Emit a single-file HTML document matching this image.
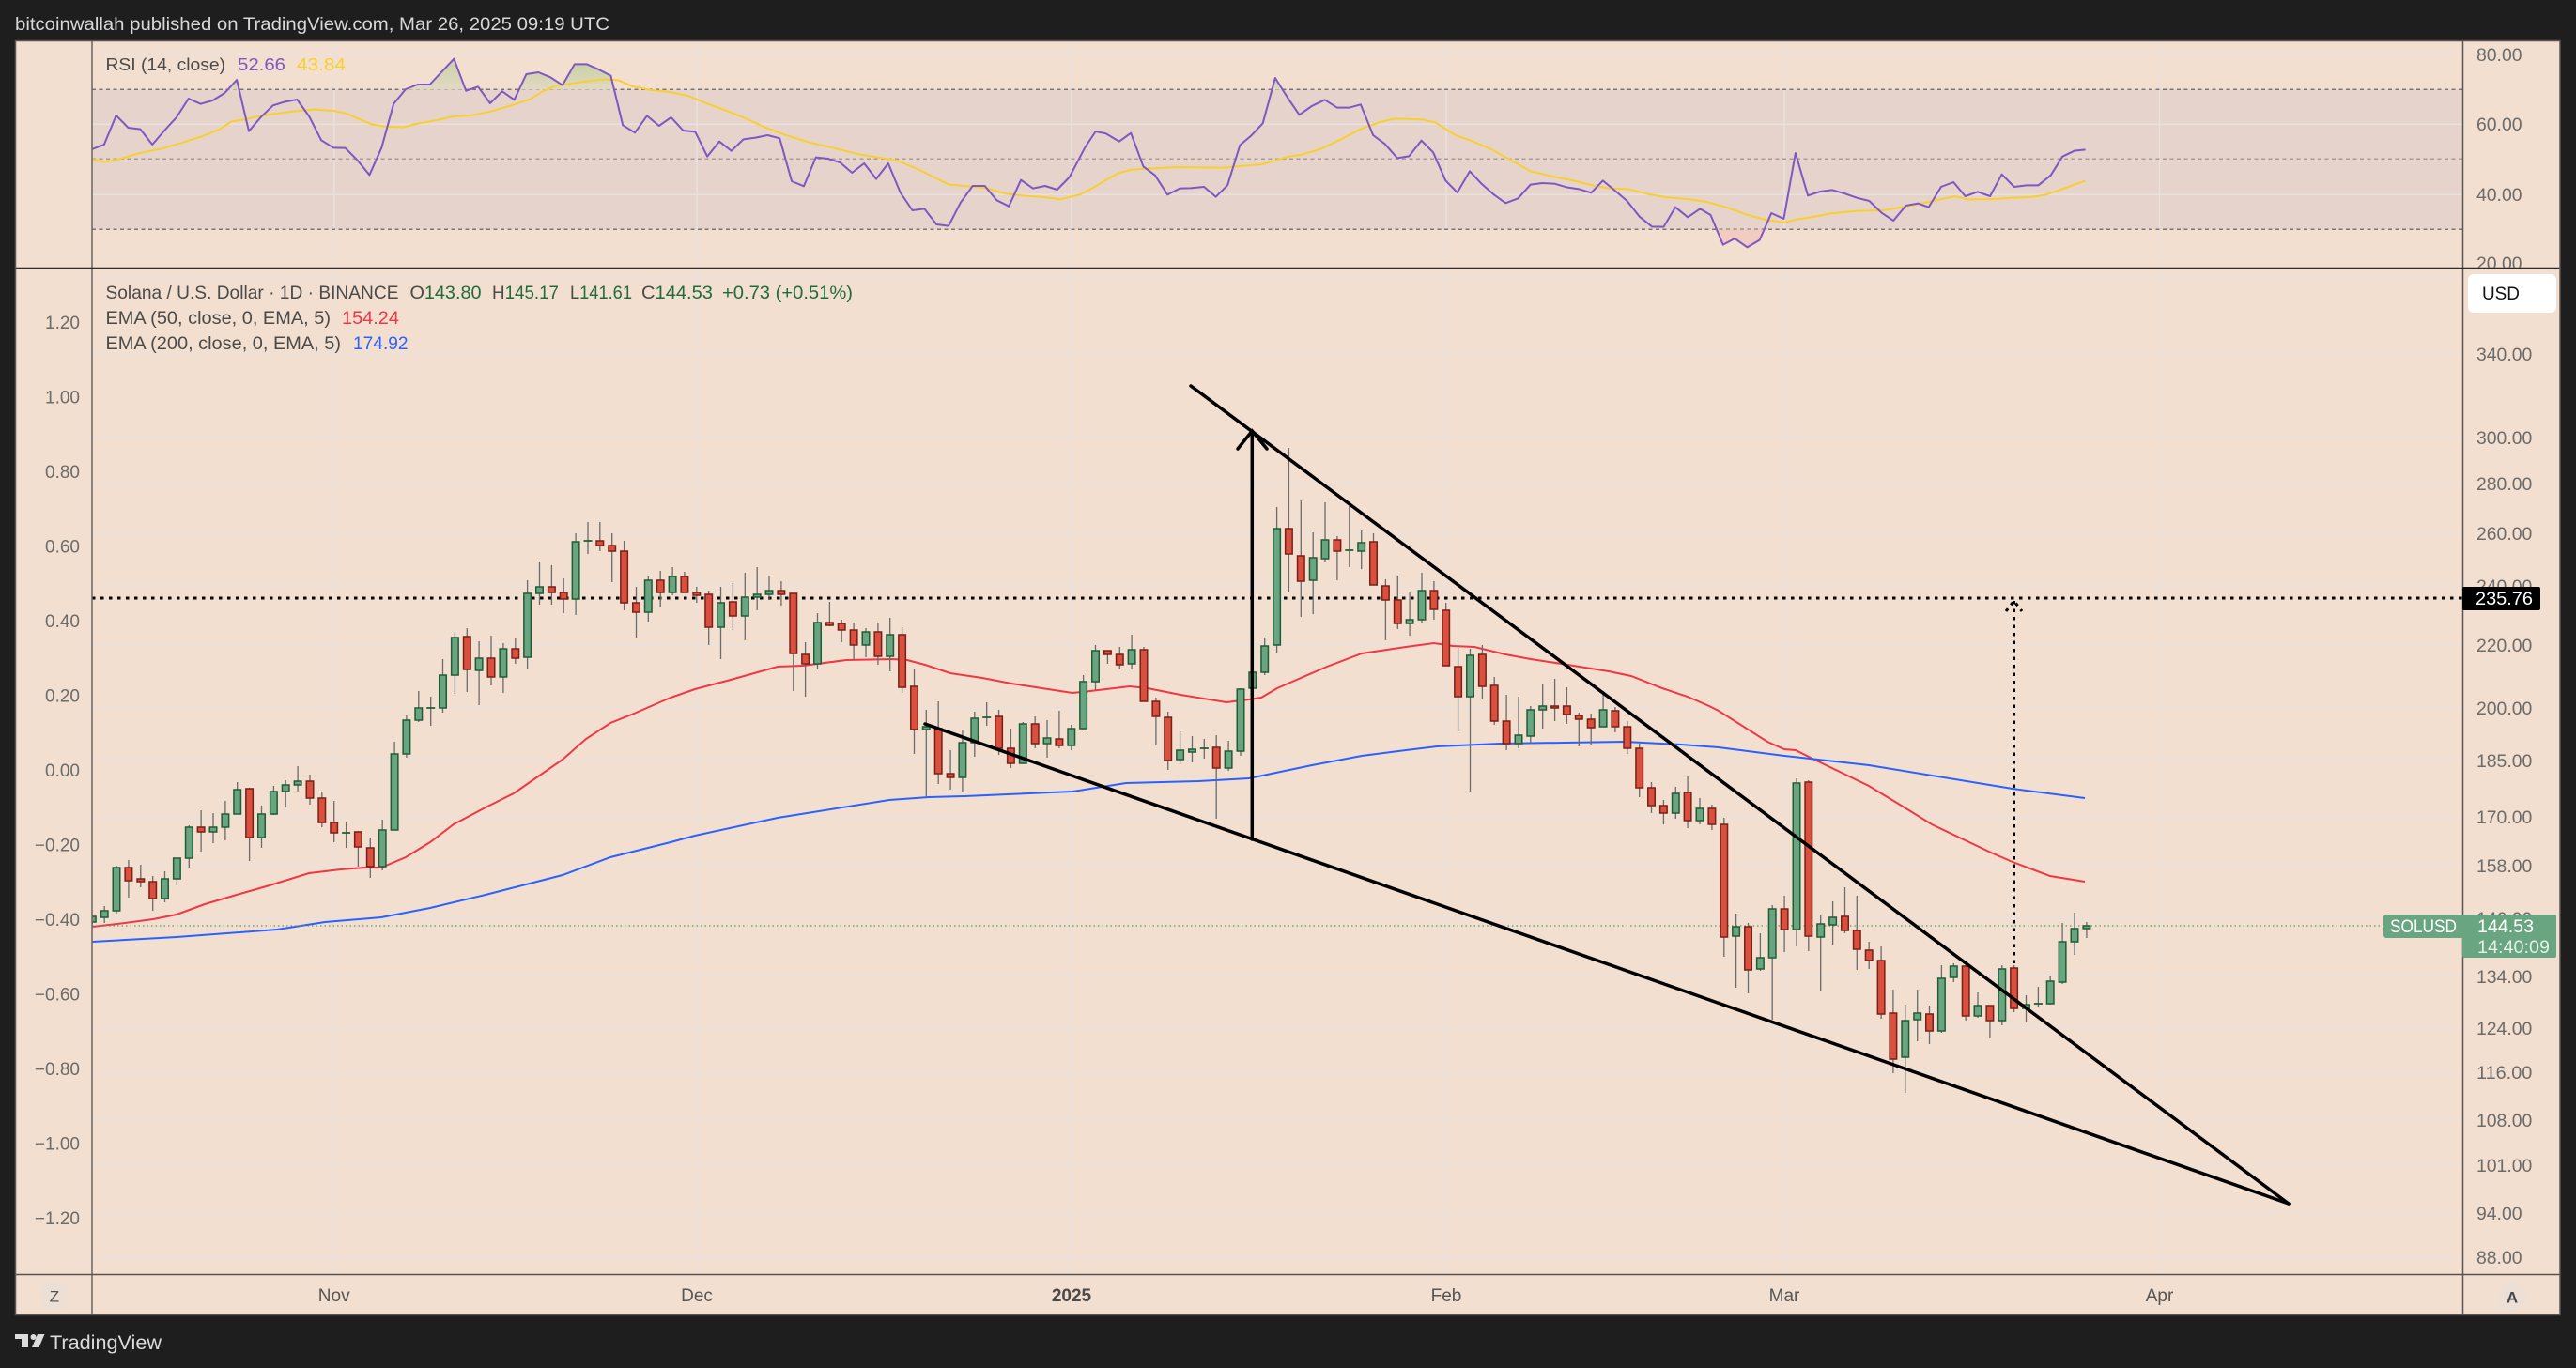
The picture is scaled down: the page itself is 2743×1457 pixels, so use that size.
<!DOCTYPE html>
<html><head><meta charset="utf-8"><style>
html,body{margin:0;padding:0;background:#1e1e1e;}
svg{display:block;font-family:"Liberation Sans",Arial,sans-serif;}
</style></head><body>
<svg width="2743" height="1457" viewBox="0 0 2743 1457" xmlns="http://www.w3.org/2000/svg">
<defs>
<clipPath id="cm"><rect x="98" y="286" width="2524" height="1071"/></clipPath>
<clipPath id="cr"><rect x="98" y="44" width="2524" height="241"/></clipPath>
<clipPath id="cra"><rect x="2623" y="44" width="103" height="241"/></clipPath>
<linearGradient id="gg" x1="0" y1="0" x2="0" y2="1"><stop offset="0" stop-color="#c9d2a6"/><stop offset="1" stop-color="#e2d8c2"/></linearGradient>
</defs>
<rect width="2743" height="1457" fill="#1e1e1e"/>
<text x="16" y="32" font-size="19.5" fill="#d8d8d8" textLength="633" lengthAdjust="spacingAndGlyphs">bitcoinwallah published on TradingView.com, Mar 26, 2025 09:19 UTC</text>
<!-- panel -->
<rect x="16" y="43.5" width="2710.5" height="1357" fill="#f2dfcf"/>
<!-- RSI band -->
<rect x="98" y="95.3" width="2524" height="149" fill="#e6d3cc"/>
<!-- gridlines -->
<g stroke="#e9e1de" stroke-width="1.5">
<line x1="98" x2="2622" y1="58" y2="58"/><line x1="98" x2="2622" y1="132.3" y2="132.3"/><line x1="98" x2="2622" y1="207.3" y2="207.3"/>
<line x1="98" x2="2622" y1="298" y2="298"/><line x1="98" x2="2622" y1="377" y2="377"/><line x1="98" x2="2622" y1="466" y2="466"/><line x1="98" x2="2622" y1="515" y2="515"/><line x1="98" x2="2622" y1="568" y2="568"/><line x1="98" x2="2622" y1="624" y2="624"/><line x1="98" x2="2622" y1="687" y2="687"/><line x1="98" x2="2622" y1="754" y2="754"/><line x1="98" x2="2622" y1="810" y2="810"/><line x1="98" x2="2622" y1="870" y2="870"/><line x1="98" x2="2622" y1="922" y2="922"/><line x1="98" x2="2622" y1="978" y2="978"/><line x1="98" x2="2622" y1="1039" y2="1039"/><line x1="98" x2="2622" y1="1094" y2="1094"/><line x1="98" x2="2622" y1="1142" y2="1142"/><line x1="98" x2="2622" y1="1193" y2="1193"/><line x1="98" x2="2622" y1="1241" y2="1241"/><line x1="98" x2="2622" y1="1292" y2="1292"/><line x1="98" x2="2622" y1="1339" y2="1339"/>
<line x1="355.7" x2="355.7" y1="44" y2="1357"/><line x1="742" x2="742" y1="44" y2="1357"/><line x1="1141" x2="1141" y1="44" y2="1357"/><line x1="1540" x2="1540" y1="44" y2="1357"/><line x1="1900" x2="1900" y1="44" y2="1357"/><line x1="2299.5" x2="2299.5" y1="44" y2="1357"/>
</g>
<!-- RSI dashed -->
<g stroke-width="1.5" stroke-dasharray="4 3.5">
<line x1="98" x2="2622" y1="95.3" y2="95.3" stroke="#7a7477"/>
<line x1="98" x2="2622" y1="169.3" y2="169.3" stroke="#a89c98"/>
<line x1="98" x2="2622" y1="244.3" y2="244.3" stroke="#7a7477"/>
</g>
<!-- RSI series -->
<g clip-path="url(#cr)">
<g transform="translate(98,44) scale(0.676101,0.333333)">
<polygon points="213.5,155 228,123 231.7,155" fill="url(#gg)"/>
<polygon points="494,155 513,138 532,138 551,97 570,56 588,155" fill="url(#gg)"/>
<polygon points="672,155 684,105 703,99 722,115 741,140 760,73 779,73 798,90 817,110 822,155" fill="url(#gg)"/>
<polyline vector-effect="non-scaling-stroke" fill="none" stroke="#f7d02f" stroke-width="2" points="0,378 20,385 40,378 60,366 80,355 110,343 140,325 170,306 200,282 220,256 240,250 260,240 290,231 320,223 350,218 380,222 400,230 420,248 440,265 460,272 490,275 510,264 540,253 570,240 600,236 630,223 660,205 690,185 710,160 730,142 760,133 790,125 810,121 830,125 850,143 880,156 910,162 940,175 970,200 1000,222 1030,247 1060,275 1090,298 1130,323 1170,342 1210,362 1250,375 1270,382 1300,408 1330,438 1350,458 1380,463 1410,470 1440,487 1470,494 1500,498 1525,505 1545,495"/>
<polyline vector-effect="non-scaling-stroke" fill="none" stroke="#7e57c2" stroke-width="2" stroke-linejoin="round" points="0,345 19,330 38,237 57,276 76,281 95,330 114,285 133,243 152,183 171,200 190,189 209,165 228,123 247,287 266,242 285,205 304,193 323,186 342,240 361,316 380,340 399,341 418,380 437,427 456,340 475,200 494,153 513,138 532,138 551,97 570,56 589,158 608,145 627,198 646,160 665,187 684,105 703,99 722,115 741,140 760,73 779,73 798,90 817,110 836,268 855,292 874,238 893,270 912,243 931,285 950,289 969,368 988,320 1007,350 1026,313 1045,308 1064,300 1083,310 1102,447 1121,463 1140,371 1159,375 1178,387 1197,420 1216,390 1235,440 1254,390 1273,483 1292,540 1311,535 1330,585 1349,590 1368,515 1387,462 1406,462 1425,508 1444,527 1463,443 1482,470 1501,462 1520,474 1539,435"/>
</g>
<g transform="translate(1150,44) scale(0.695169,0.333333)">
<polygon points="294,155 299,117 310.5,155" fill="url(#gg)"/>
<polygon points="975,601 985,650 1003,630 1022,658 1041,635 1048,601" fill="#f1c6bd" opacity="0.8"/>
<polyline vector-effect="non-scaling-stroke" fill="none" stroke="#f7d02f" stroke-width="2" points="-10.6,495 0,490 20,468 40,443 60,420 80,410 110,406 150,402 190,403 220,404 250,398 280,393 300,380 320,368 340,362 370,343 400,313 430,280 460,258 480,248 500,248 525,250 545,260 575,300 600,318 630,345 660,380 690,415 720,430 760,447 790,463 810,470 840,472 870,488 900,499 930,504 960,513 990,530 1020,553 1050,570 1078,579 1100,568 1120,562 1150,550 1190,542 1230,540 1260,530 1300,513 1340,495 1360,505 1400,504 1430,500 1460,497 1480,490 1510,468 1540,445"/>
<polyline vector-effect="non-scaling-stroke" fill="none" stroke="#7e57c2" stroke-width="2" stroke-linejoin="round" points="-16.4,435 8,338 24,288 40,295 60,320 78,293 97,400 115,428 134,490 153,470 170,469 190,465 208,497 226,460 245,332 262,302 280,262 299,117 318,180 336,235 355,207 375,187 394,212 412,212 430,202 449,300 467,328 486,373 504,367 523,317 541,355 560,445 578,483 597,415 615,455 634,490 652,517 671,502 690,458 708,453 727,455 745,466 764,472 783,484 801,445 820,478 838,510 857,560 876,592 894,593 912,530 931,562 950,535 966,555 985,650 1003,630 1022,658 1041,635 1059,549 1078,567 1096,357 1115,493 1134,480 1152,475 1172,487 1190,500 1209,510 1228,548 1246,573 1265,525 1284,518 1300,530 1319,465 1338,450 1356,495 1375,481 1394,495 1412,425 1431,465 1450,460 1468,460 1487,428 1505,368 1523,350 1540,346"/>
</g>
</g>
<text x="112.5" y="75" font-size="18.5" fill="#4a4a4a" textLength="127.5" lengthAdjust="spacingAndGlyphs">RSI (14, close)</text>
<text x="253" y="75" font-size="18.5" fill="#7e57c2" textLength="51" lengthAdjust="spacingAndGlyphs">52.66</text>
<text x="316" y="75" font-size="18.5" fill="#f7cf2e" textLength="52" lengthAdjust="spacingAndGlyphs">43.84</text>

<!-- main pane content -->
<g clip-path="url(#cm)">
<!-- EMAs -->
<polyline fill="none" stroke="#f23645" stroke-width="2" points="98.5,987 133,983 163,979 188,974 218,963 252,953 287,943 329,930 363,926 389,924 406,924 432,913 458,897 483,878 517,860 547,845 573,827 599,809 624,787 650,770 675,760 714,743 740,734 778,724 828,710 855,709 901,703 950,702 966,703 985,708 1012,717 1046,722 1077,728 1142,738 1161,736 1203,731 1222,733 1257,740 1306,748 1330,745 1343,743 1360,733 1383,723 1413,710 1450,696 1497,689 1527,685 1547,688 1570,689 1603,697 1630,702 1663,707 1713,715 1737,720 1770,733 1797,742 1820,752 1830,757 1882,790 1900,798 1912,799 1930,808 1990,837 2023,857 2057,878 2120,908 2143,918 2183,933 2220,939"/>
<polyline fill="none" stroke="#2962ff" stroke-width="2" points="98.5,1003 188,998 295,990 346,982 406,977 458,967 517,953 599,932 650,913 714,897 740,890 828,871 947,852 989,849 1027,848 1142,843 1199,834 1276,832 1330,829 1397,815 1450,805 1497,799 1530,795 1597,792 1730,790 1790,793 1830,796 1900,805 1990,815 2143,840 2220,850"/>
<!-- price lines -->
<line x1="98" x2="2538" y1="986" y2="986" stroke="#4f9e6e" stroke-width="1.3" stroke-dasharray="1.5 3"/>
<line x1="98" x2="2622" y1="637" y2="637" stroke="#000" stroke-width="3" stroke-dasharray="3.5 5.5"/>
<!-- wicks -->
<path fill="none" stroke="#6b6b6b" stroke-width="1.3" d="M98.3 974V984M111.2 965V983M124 922V973M136.9 916V956M149.8 921V945M162.7 933V970M175.5 928V961M188.4 914V943M201.3 879V924M214.1 863V907M227 866V898M239.9 853V895M252.7 833V867M265.6 839V917M278.5 858V903M291.4 837V868M304.2 831V860M317.1 816V843M330 825V857M342.8 843V881M355.7 853V897M368.6 876V903M381.4 885V923M394.3 892V935M407.2 873V927M420.1 790V884M432.9 761V807M445.8 736V769M458.7 742V773M471.5 702V759M484.4 673V739M497.3 669V737M510.1 683V751M523 677V730M535.9 685V738M548.8 680V707M561.6 618V712M574.5 599V644M587.4 602V644M600.2 616V653M613.1 568V655M626 556V590M638.8 556V587M651.7 568V620M664.6 576V650M677.5 625V679M690.3 614V662M703.2 608V646M716.1 604V634M728.9 609V631M741.8 625V642M754.7 629V687M767.5 625V702M780.4 621V671M793.3 610V682M806.2 604V650M819 613V639M831.9 619V645M844.8 632V736M857.6 684V742M870.5 653V713M883.4 641V667M896.2 660V684M909.1 663V703M922 669V700M934.9 663V708M947.7 658V715M960.6 668V738M973.5 712V803M986.3 756V849M999.2 747V835M1012.1 799V841M1024.9 778V843M1037.8 758V806M1050.7 748V773M1063.6 756V804M1076.4 776V818M1089.3 769V813M1102.2 763V797M1115 767V807M1127.9 757V797M1140.8 772V799M1153.6 719V778M1166.5 687V735M1179.4 693V707M1192.3 689V713M1205.1 676V713M1218 689V747M1230.9 743V794M1243.7 758V820M1256.6 779V814M1269.5 784V812M1282.3 787V808M1295.2 783V872M1308.1 789V821M1321 733V805M1333.8 696V759M1346.7 679V719M1359.6 540V695M1372.4 477V631M1385.3 533V657M1398.2 567V654M1411 535V599M1423.9 571V618M1436.8 539V604M1449.7 565V606M1462.5 568V623M1475.4 617V682M1488.3 613V670M1501.1 630V677M1514 610V663M1526.9 619V660M1539.7 642V709M1552.6 690V779M1565.5 691V843M1578.4 687V745M1591.2 721V772M1604.1 740V799M1617 742V797M1629.8 752V791M1642.7 728V776M1655.6 723V768M1668.4 732V771M1681.3 759V795M1694.2 760V793M1707.1 736V774M1719.9 753V780M1732.8 768V803M1745.7 792V849M1758.5 833V866M1771.4 852V878M1784.3 838V872M1797.1 827V882M1810 850V878M1822.9 857V884M1835.8 871V1019M1848.6 973V1052M1861.5 983V1058M1874.4 994V1034M1887.2 964V1086M1900.1 954V1014M1913 829V1008M1925.8 831V1013M1938.7 974V1056M1951.6 960V1006M1964.5 945V994M1977.3 954V1033M1990.2 1003V1032M2003.1 1008V1085M2015.9 1054V1143M2028.8 1070V1164M2041.7 1054V1109M2054.5 1071V1112M2067.4 1028V1100M2080.3 1026V1046M2093.2 1026V1087M2106 1057V1084M2118.9 1071V1106M2131.8 1028V1092M2144.6 1028V1078M2157.5 1060V1089M2170.4 1051V1072M2183.2 1039V1070M2196.1 983V1048M2209 972V1017M2221.9 982V999"/>
<!-- green bodies -->
<path fill="#6aa582" stroke="#1f5c36" stroke-width="1.5" d="M98.3 976m-3.75 0h7.5V982h-7.5zM111.2 970m-3.75 0h7.5V977h-7.5zM124 924m-3.75 0h7.5V970h-7.5zM175.5 936m-3.75 0h7.5V957h-7.5zM188.4 914m-3.75 0h7.5V936h-7.5zM201.3 881m-3.75 0h7.5V914h-7.5zM227 881m-3.75 0h7.5V886h-7.5zM239.9 867m-3.75 0h7.5V881h-7.5zM252.7 841m-3.75 0h7.5V867h-7.5zM278.5 867m-3.75 0h7.5V892h-7.5zM291.4 843m-3.75 0h7.5V867h-7.5zM304.2 836m-3.75 0h7.5V843h-7.5zM317.1 832m-3.75 0h7.5V836h-7.5zM407.2 884m-3.75 0h7.5V923h-7.5zM420.1 803m-3.75 0h7.5V884h-7.5zM432.9 767m-3.75 0h7.5V803h-7.5zM445.8 754m-3.75 0h7.5V767h-7.5zM471.5 719m-3.75 0h7.5V754h-7.5zM484.4 679m-3.75 0h7.5V719h-7.5zM510.1 701m-3.75 0h7.5V714h-7.5zM535.9 691m-3.75 0h7.5V721h-7.5zM561.6 632m-3.75 0h7.5V700h-7.5zM574.5 625m-3.75 0h7.5V632h-7.5zM613.1 577m-3.75 0h7.5V638h-7.5zM690.3 618m-3.75 0h7.5V652h-7.5zM716.1 614m-3.75 0h7.5V631h-7.5zM767.5 642m-3.75 0h7.5V668h-7.5zM793.3 636m-3.75 0h7.5V656h-7.5zM806.2 633m-3.75 0h7.5V636h-7.5zM819 629m-3.75 0h7.5V633h-7.5zM870.5 663m-3.75 0h7.5V707h-7.5zM922 673m-3.75 0h7.5V687h-7.5zM947.7 676m-3.75 0h7.5V699h-7.5zM986.3 774m-3.75 0h7.5V777h-7.5zM1024.9 791m-3.75 0h7.5V828h-7.5zM1037.8 765m-3.75 0h7.5V791h-7.5zM1089.3 771m-3.75 0h7.5V813h-7.5zM1115 786m-3.75 0h7.5V792h-7.5zM1140.8 776m-3.75 0h7.5V794h-7.5zM1153.6 726m-3.75 0h7.5V776h-7.5zM1166.5 693m-3.75 0h7.5V726h-7.5zM1205.1 692m-3.75 0h7.5V707h-7.5zM1256.6 799m-3.75 0h7.5V809h-7.5zM1269.5 798m-3.75 0h7.5V801h-7.5zM1308.1 800m-3.75 0h7.5V818h-7.5zM1321 734m-3.75 0h7.5V800h-7.5zM1333.8 716m-3.75 0h7.5V733h-7.5zM1346.7 688m-3.75 0h7.5V716h-7.5zM1359.6 563m-3.75 0h7.5V687h-7.5zM1398.2 594m-3.75 0h7.5V618h-7.5zM1411 575m-3.75 0h7.5V595h-7.5zM1449.7 578m-3.75 0h7.5V587h-7.5zM1501.1 660m-3.75 0h7.5V664h-7.5zM1514 629m-3.75 0h7.5V660h-7.5zM1565.5 698m-3.75 0h7.5V742h-7.5zM1617 783m-3.75 0h7.5V792h-7.5zM1629.8 756m-3.75 0h7.5V784h-7.5zM1642.7 752m-3.75 0h7.5V756h-7.5zM1707.1 756m-3.75 0h7.5V774h-7.5zM1784.3 845m-3.75 0h7.5V866h-7.5zM1810 861m-3.75 0h7.5V874h-7.5zM1848.6 987m-3.75 0h7.5V997h-7.5zM1874.4 1020m-3.75 0h7.5V1032h-7.5zM1887.2 968m-3.75 0h7.5V1020h-7.5zM1913 834m-3.75 0h7.5V990h-7.5zM1938.7 984m-3.75 0h7.5V998h-7.5zM1951.6 977m-3.75 0h7.5V985h-7.5zM2028.8 1087m-3.75 0h7.5V1126h-7.5zM2041.7 1079m-3.75 0h7.5V1086h-7.5zM2067.4 1042m-3.75 0h7.5V1098h-7.5zM2080.3 1029m-3.75 0h7.5V1041h-7.5zM2106 1071m-3.75 0h7.5V1082h-7.5zM2131.8 1032m-3.75 0h7.5V1087h-7.5zM2157.5 1070m-3.75 0h7.5V1074h-7.5zM2183.2 1045m-3.75 0h7.5V1069h-7.5zM2196.1 1003m-3.75 0h7.5V1046h-7.5zM2209 989m-3.75 0h7.5V1003h-7.5zM2221.9 986m-3.75 0h7.5V989h-7.5z"/>
<!-- red bodies -->
<path fill="#d9503f" stroke="#7a1f16" stroke-width="1.5" d="M136.9 924m-3.75 0h7.5V938h-7.5zM149.8 936m-3.75 0h7.5V939h-7.5zM162.7 939m-3.75 0h7.5V957h-7.5zM214.1 881m-3.75 0h7.5V886h-7.5zM265.6 840m-3.75 0h7.5V892h-7.5zM330 832m-3.75 0h7.5V850h-7.5zM342.8 850m-3.75 0h7.5V876h-7.5zM355.7 876m-3.75 0h7.5V887h-7.5zM381.4 886m-3.75 0h7.5V902h-7.5zM394.3 903m-3.75 0h7.5V923h-7.5zM497.3 678m-3.75 0h7.5V713h-7.5zM523 701m-3.75 0h7.5V721h-7.5zM548.8 691m-3.75 0h7.5V701h-7.5zM587.4 625m-3.75 0h7.5V631h-7.5zM600.2 631m-3.75 0h7.5V638h-7.5zM638.8 576m-3.75 0h7.5V581h-7.5zM651.7 581m-3.75 0h7.5V587h-7.5zM664.6 587m-3.75 0h7.5V642h-7.5zM677.5 642m-3.75 0h7.5V652h-7.5zM703.2 618m-3.75 0h7.5V631h-7.5zM728.9 614m-3.75 0h7.5V631h-7.5zM741.8 631m-3.75 0h7.5V634h-7.5zM754.7 633m-3.75 0h7.5V668h-7.5zM780.4 641m-3.75 0h7.5V656h-7.5zM831.9 629m-3.75 0h7.5V633h-7.5zM844.8 632m-3.75 0h7.5V696h-7.5zM857.6 697m-3.75 0h7.5V707h-7.5zM883.4 663m-3.75 0h7.5V666h-7.5zM896.2 664m-3.75 0h7.5V671h-7.5zM909.1 671m-3.75 0h7.5V687h-7.5zM934.9 673m-3.75 0h7.5V699h-7.5zM960.6 676m-3.75 0h7.5V732h-7.5zM973.5 731m-3.75 0h7.5V777h-7.5zM999.2 776m-3.75 0h7.5V824h-7.5zM1012.1 824m-3.75 0h7.5V828h-7.5zM1063.6 763m-3.75 0h7.5V797h-7.5zM1076.4 797m-3.75 0h7.5V813h-7.5zM1102.2 771m-3.75 0h7.5V792h-7.5zM1127.9 787m-3.75 0h7.5V794h-7.5zM1179.4 693m-3.75 0h7.5V697h-7.5zM1192.3 697m-3.75 0h7.5V708h-7.5zM1218 692m-3.75 0h7.5V747h-7.5zM1230.9 747m-3.75 0h7.5V763h-7.5zM1243.7 764m-3.75 0h7.5V810h-7.5zM1295.2 796m-3.75 0h7.5V818h-7.5zM1372.4 563m-3.75 0h7.5V590h-7.5zM1385.3 592m-3.75 0h7.5V619h-7.5zM1423.9 575m-3.75 0h7.5V587h-7.5zM1462.5 577m-3.75 0h7.5V623h-7.5zM1475.4 624m-3.75 0h7.5V639h-7.5zM1488.3 639m-3.75 0h7.5V664h-7.5zM1526.9 629m-3.75 0h7.5V649h-7.5zM1539.7 650m-3.75 0h7.5V709h-7.5zM1552.6 710m-3.75 0h7.5V742h-7.5zM1578.4 697m-3.75 0h7.5V731h-7.5zM1591.2 730m-3.75 0h7.5V768h-7.5zM1604.1 768m-3.75 0h7.5V792h-7.5zM1655.6 752m-3.75 0h7.5V754h-7.5zM1668.4 752m-3.75 0h7.5V761h-7.5zM1681.3 762m-3.75 0h7.5V766h-7.5zM1694.2 766m-3.75 0h7.5V775h-7.5zM1719.9 757m-3.75 0h7.5V774h-7.5zM1732.8 774m-3.75 0h7.5V797h-7.5zM1745.7 797m-3.75 0h7.5V839h-7.5zM1758.5 839m-3.75 0h7.5V858h-7.5zM1771.4 858m-3.75 0h7.5V866h-7.5zM1797.1 844m-3.75 0h7.5V874h-7.5zM1822.9 861m-3.75 0h7.5V878h-7.5zM1835.8 878m-3.75 0h7.5V998h-7.5zM1861.5 987m-3.75 0h7.5V1033h-7.5zM1900.1 968m-3.75 0h7.5V990h-7.5zM1925.8 833m-3.75 0h7.5V997h-7.5zM1964.5 976m-3.75 0h7.5V991h-7.5zM1977.3 991m-3.75 0h7.5V1011h-7.5zM1990.2 1012m-3.75 0h7.5V1023h-7.5zM2003.1 1023m-3.75 0h7.5V1080h-7.5zM2015.9 1079m-3.75 0h7.5V1128h-7.5zM2054.5 1080m-3.75 0h7.5V1098h-7.5zM2093.2 1029m-3.75 0h7.5V1082h-7.5zM2118.9 1071m-3.75 0h7.5V1087h-7.5zM2144.6 1031m-3.75 0h7.5V1074h-7.5z"/>
<!-- dojis -->
<path fill="none" stroke="#1f5c36" stroke-width="1.8" d="M368.6 887m-4.5 0h9M458.7 754m-4.5 0h9M626 576m-4.5 0h9M1050.7 764m-4.5 0h9M1282.3 797m-4.5 0h9M1436.8 586m-4.5 0h9M2170.4 1069m-4.5 0h9"/>
<!-- drawings -->
<g stroke="#000" stroke-width="3.5" fill="none" stroke-linecap="round">
<line x1="1268" y1="411" x2="2437" y2="1282"/>
<line x1="985" y1="771" x2="2437" y2="1282"/>
<line x1="1333.3" y1="459" x2="1333.3" y2="894"/>
<polyline points="1318,478 1333.3,459 1349,478"/>
</g>
<g stroke="#000" stroke-width="3" fill="none" stroke-dasharray="3.5 5">
<line x1="2144.5" y1="640" x2="2144.5" y2="1030"/>
<polyline points="2136,651 2144.5,640 2153,651"/>
</g>
</g>

<!-- borders / axis lines -->
<line x1="98" x2="98" y1="44" y2="1400" stroke="#6b6464" stroke-width="1.5"/>
<line x1="2622.5" x2="2622.5" y1="44" y2="1400" stroke="#5a5656" stroke-width="1.5"/>
<line x1="16" x2="2726" y1="285.7" y2="285.7" stroke="#2a2a2a" stroke-width="2"/>
<line x1="16" x2="2726" y1="1357.5" y2="1357.5" stroke="#5a5050" stroke-width="1.5"/>
<rect x="16.5" y="43.5" width="2709.5" height="1357" fill="none" stroke="#5c5454" stroke-width="1.5"/>

<!-- left axis labels -->
<g font-size="19" fill="#6b6b6b" text-anchor="end">
<text x="85" y="350">1.20</text><text x="85" y="429.5">1.00</text><text x="85" y="509">0.80</text><text x="85" y="588.5">0.60</text><text x="85" y="668">0.40</text><text x="85" y="747.5">0.20</text><text x="85" y="827">0.00</text><text x="85" y="906.5">−0.20</text><text x="85" y="986">−0.40</text><text x="85" y="1065.5">−0.60</text><text x="85" y="1145">−0.80</text><text x="85" y="1224.5">−1.00</text><text x="85" y="1304">−1.20</text>
</g>

<!-- right axis labels -->
<g font-size="19" fill="#6b6b6b">
<g clip-path="url(#cra)">
<text x="2637" y="65" textLength="48.5" lengthAdjust="spacingAndGlyphs">80.00</text>
<text x="2637" y="139" textLength="48.5" lengthAdjust="spacingAndGlyphs">60.00</text>
<text x="2637" y="214" textLength="48.5" lengthAdjust="spacingAndGlyphs">40.00</text>
<text x="2637" y="287" textLength="48.5" lengthAdjust="spacingAndGlyphs">20.00</text>
</g>
<text x="2637" y="384" textLength="59.3" lengthAdjust="spacingAndGlyphs">340.00</text>
<text x="2637" y="473" textLength="59.3" lengthAdjust="spacingAndGlyphs">300.00</text>
<text x="2637" y="522" textLength="59.3" lengthAdjust="spacingAndGlyphs">280.00</text>
<text x="2637" y="575" textLength="59.3" lengthAdjust="spacingAndGlyphs">260.00</text>
<text x="2637" y="631" textLength="59.3" lengthAdjust="spacingAndGlyphs">240.00</text>
<text x="2637" y="694" textLength="59.3" lengthAdjust="spacingAndGlyphs">220.00</text>
<text x="2637" y="761" textLength="59.3" lengthAdjust="spacingAndGlyphs">200.00</text>
<text x="2637" y="817" textLength="59.3" lengthAdjust="spacingAndGlyphs">185.00</text>
<text x="2637" y="877" textLength="59.3" lengthAdjust="spacingAndGlyphs">170.00</text>
<text x="2637" y="929" textLength="59.3" lengthAdjust="spacingAndGlyphs">158.00</text>
<text x="2637" y="985" textLength="59.3" lengthAdjust="spacingAndGlyphs">146.00</text>
<text x="2637" y="1047" textLength="59.3" lengthAdjust="spacingAndGlyphs">134.00</text>
<text x="2637" y="1102" textLength="59.3" lengthAdjust="spacingAndGlyphs">124.00</text>
<text x="2637" y="1149" textLength="59.3" lengthAdjust="spacingAndGlyphs">116.00</text>
<text x="2637" y="1200" textLength="59.3" lengthAdjust="spacingAndGlyphs">108.00</text>
<text x="2637" y="1248" textLength="59.3" lengthAdjust="spacingAndGlyphs">101.00</text>
<text x="2637" y="1299" textLength="48.5" lengthAdjust="spacingAndGlyphs">94.00</text>
<text x="2637" y="1346" textLength="48.5" lengthAdjust="spacingAndGlyphs">88.00</text>
</g>
<!-- USD box -->
<rect x="2628" y="292" width="94" height="41" rx="6" fill="#ffffff"/>
<text x="2643" y="319" font-size="19" fill="#131313" textLength="40" lengthAdjust="spacingAndGlyphs">USD</text>
<!-- 235.76 label -->
<rect x="2622" y="625" width="83" height="25" rx="2" fill="#000"/>
<text x="2636" y="644" font-size="19" fill="#ffffff" textLength="61" lengthAdjust="spacingAndGlyphs">235.76</text>
<!-- SOLUSD labels -->
<rect x="2538" y="974" width="86" height="25" rx="3" fill="#6aa582"/>
<text x="2545" y="993" font-size="19" fill="#ffffff" textLength="71" lengthAdjust="spacingAndGlyphs">SOLUSD</text>
<rect x="2622" y="974" width="100" height="46" rx="2" fill="#6aa582"/>
<text x="2638" y="993" font-size="19" fill="#ffffff" textLength="60" lengthAdjust="spacingAndGlyphs">144.53</text>
<text x="2638" y="1015" font-size="19" fill="#e3f1e6" textLength="77" lengthAdjust="spacingAndGlyphs">14:40:09</text>

<!-- legend -->
<g font-size="19.5">
<text x="112.5" y="318" fill="#4a4a4a" textLength="312" lengthAdjust="spacingAndGlyphs">Solana / U.S. Dollar · 1D · BINANCE</text>
<text x="436.5" y="318" textLength="76" lengthAdjust="spacingAndGlyphs"><tspan fill="#4a4a4a">O</tspan><tspan fill="#1f6b3a">143.80</tspan></text>
<text x="524" y="318" textLength="71" lengthAdjust="spacingAndGlyphs"><tspan fill="#4a4a4a">H</tspan><tspan fill="#1f6b3a">145.17</tspan></text>
<text x="607" y="318" textLength="66" lengthAdjust="spacingAndGlyphs"><tspan fill="#4a4a4a">L</tspan><tspan fill="#1f6b3a">141.61</tspan></text>
<text x="683" y="318" textLength="76" lengthAdjust="spacingAndGlyphs"><tspan fill="#4a4a4a">C</tspan><tspan fill="#1f6b3a">144.53</tspan></text>
<text x="769" y="318" fill="#1f6b3a" textLength="139" lengthAdjust="spacingAndGlyphs">+0.73 (+0.51%)</text>
<text x="112.5" y="345" fill="#4a4a4a" textLength="239.5" lengthAdjust="spacingAndGlyphs">EMA (50, close, 0, EMA, 5)</text>
<text x="364" y="345" fill="#f23645" textLength="61" lengthAdjust="spacingAndGlyphs">154.24</text>
<text x="112.5" y="372" fill="#4a4a4a" textLength="250.5" lengthAdjust="spacingAndGlyphs">EMA (200, close, 0, EMA, 5)</text>
<text x="376" y="372" fill="#2962ff" textLength="58.6" lengthAdjust="spacingAndGlyphs">174.92</text>
</g>

<!-- time axis -->
<g font-size="19" fill="#555" text-anchor="middle">
<text x="355.7" y="1386">Nov</text>
<text x="742" y="1386">Dec</text>
<text x="1141" y="1386" font-weight="bold" fill="#4a4a4a">2025</text>
<text x="1540" y="1386">Feb</text>
<text x="1900" y="1386">Mar</text>
<text x="2299.5" y="1386">Apr</text>
</g>
<circle cx="58" cy="1380" r="15" fill="#ebdfd6"/>
<text x="58" y="1386.5" font-size="17" fill="#555" text-anchor="middle">Z</text>
<circle cx="2675" cy="1381" r="15" fill="#ebdfd6"/>
<text x="2675" y="1387.5" font-size="17" fill="#444" text-anchor="middle" font-weight="bold">A</text>

<!-- footer -->
<g fill="#dcdcdc">
<rect x="16" y="1421" width="14" height="5"/>
<rect x="23" y="1421" width="7" height="14"/>
<circle cx="35.5" cy="1424" r="3"/>
<polygon points="40,1421 47.5,1421 41.5,1435 34,1435"/>
</g>
<text x="53" y="1437" font-size="21" fill="#dcdcdc" textLength="119" lengthAdjust="spacingAndGlyphs">TradingView</text>
</svg>
</body></html>
